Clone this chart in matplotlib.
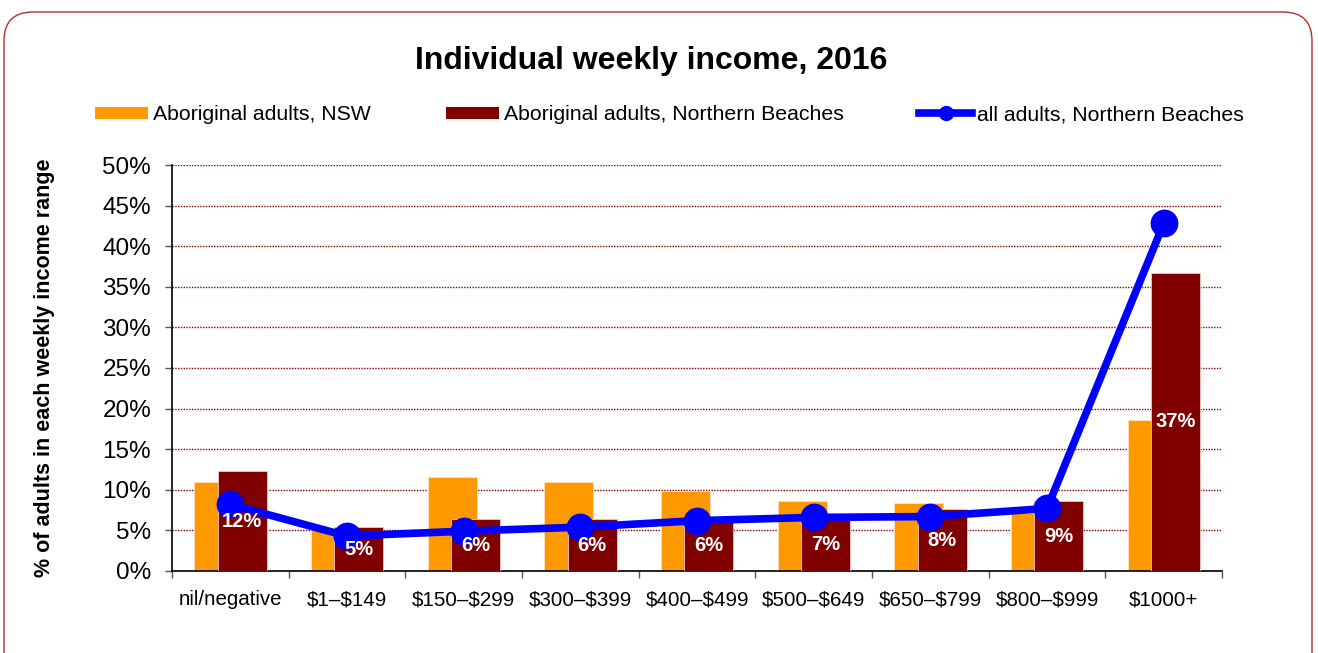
import numpy as np
import matplotlib.pyplot as plt
from matplotlib.patches import FancyBboxPatch
from matplotlib.lines import Line2D
from matplotlib.patches import Patch

plt.rcParams['font.family'] = ['Liberation Sans', 'DejaVu Sans']

# data (% of adults)
categories = ['nil/negative', '\\$1\u2013\\$149', '\\$150\u2013\\$299', '\\$300\u2013\\$399', '\\$400\u2013\\$499',
              '\\$500\u2013\\$649', '\\$650\u2013\\$799', '\\$800\u2013\\$999', '\\$1000+']
nsw_aboriginal = [10.9, 5.2, 11.6, 10.9, 9.8, 8.6, 8.4, 7.1, 18.6]
nb_aboriginal = [12.3, 5.4, 6.4, 6.4, 6.2, 6.6, 7.6, 8.6, 36.7]
nb_all = [8.2, 4.3, 4.9, 5.4, 6.2, 6.6, 6.7, 7.7, 42.8]

orange = '#FF9900'
maroon = '#800000'
blue = '#0000FF'

fig = plt.figure(figsize=(13.18, 6.53), dpi=100)
ax = fig.add_axes([0.1305, 0.1256, 0.7967, 0.6217])

x = np.arange(len(categories))
w = 0.42
ax.bar(x - 0.1, nsw_aboriginal, w, color=orange, edgecolor='#FFE0C0', linewidth=0.6, zorder=2)
bars = ax.bar(x + 0.1, nb_aboriginal, w, color=maroon, edgecolor='#E8C8C8', linewidth=0.6, zorder=3)
ax.plot(x, nb_all, color=blue, linewidth=5.5, marker='o', markersize=19, zorder=4)
labs = ax.bar_label(bars, fmt='%.0f%%', label_type='center', color='white',
                    fontsize=14.5, fontweight='bold')
for t in labs:
    t.set_zorder(6)

ax.set_xlim(-0.5, len(categories) - 0.5)
ax.set_ylim(0, 50)
ax.set_yticks(np.arange(0, 51, 5))
ax.set_yticklabels([f'{v}%' for v in range(0, 51, 5)], fontsize=17.5)
ax.yaxis.grid(True, color='#8B0000', linestyle=(0, (1, 1)), linewidth=1.0)
ax.set_axisbelow(True)
ax.tick_params(axis='y', length=5, width=1, color='#555555', pad=10)

ax.set_xticks(x)
ax.set_xticklabels(categories, fontsize=14.8)
ax.set_xticks(np.arange(-0.5, len(categories), 1), minor=True)
ax.tick_params(axis='x', which='major', length=0, pad=14)
ax.tick_params(axis='x', which='minor', length=5, width=1, color='#555555')

for s in ['top', 'right']:
    ax.spines[s].set_visible(False)
ax.spines['left'].set_linewidth(1.2)
ax.spines['bottom'].set_linewidth(1.2)

ax.set_ylabel('% of adults in each weekly income range', fontsize=15.5, fontweight='bold')
ax.yaxis.set_label_coords(-0.111, 0.5)

fig.text(0.494, 0.907, 'Individual weekly income, 2016', ha='center', va='center',
         fontsize=23, fontweight='bold')

handles = [Patch(facecolor=orange), Patch(facecolor=maroon),
           Line2D([], [], color=blue, linewidth=5.5, marker='o', markersize=10)]
names = ['Aboriginal adults, NSW', 'Aboriginal adults, Northern Beaches', 'all adults, Northern Beaches']
fig.legend(handles, names, loc='center left', bbox_to_anchor=(0.072, 0.824), ncol=3, frameon=False,
           fontsize=15.3, handlelength=2.5, handleheight=0.55, handletextpad=0.22,
           columnspacing=3.55, borderaxespad=0, borderpad=0)

border = FancyBboxPatch((4 / 1318, -0.05), 1308 / 1318, 1 - 12 / 653 + 0.05,
                        boxstyle='round,pad=0,rounding_size=0.022', transform=fig.transFigure,
                        facecolor='none', edgecolor='#B03030', linewidth=1.0, mutation_aspect=2.0)
fig.patches.append(border)

fig.savefig('out.png', dpi=100)
